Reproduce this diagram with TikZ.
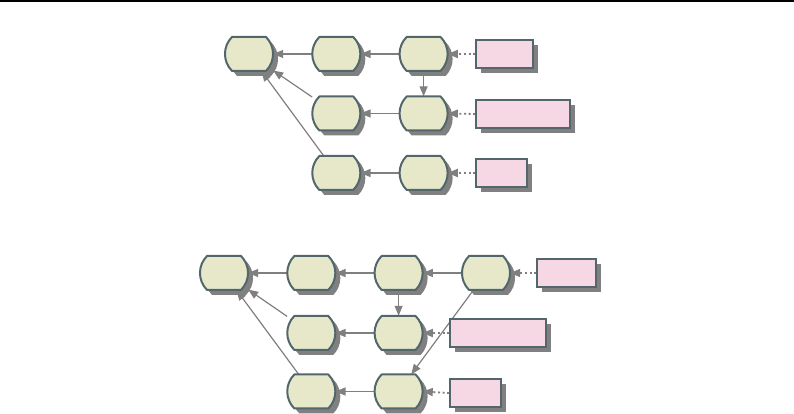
\documentclass[tikz,border=0pt]{standalone}
\usetikzlibrary{arrows.meta,shadows}
\definecolor{nodefill}{HTML}{E6E8C9}
\definecolor{nodeborder}{HTML}{52666C}
\definecolor{pinkfill}{HTML}{F6D7E4}
\definecolor{shadowgray}{HTML}{808080}
\definecolor{edgegray}{HTML}{7F7F7F}
\pgfdeclarelayer{bg}
\pgfsetlayers{bg,main}
\tikzset{
  proc/.style={rectangle,minimum width=48pt,minimum height=34pt,inner sep=0pt,draw=none},
  procshape/.style={insert path={++(-17pt,17pt) -- ++(34pt,0pt) arc[start angle=45,end angle=-45,radius=24pt] -- ++(-34pt,0pt) arc[start angle=225,end angle=135,radius=24pt] -- cycle}},
  procfill/.style={fill=nodefill,draw=nodeborder,line width=2pt,line join=round},
  shadowfill/.style={fill=shadowgray},
  pinkbox/.style={rectangle,minimum height=28pt,inner sep=0pt,fill=pinkfill,draw=nodeborder,line width=1.6pt,
    drop shadow={shadow xshift=5pt,shadow yshift=-5pt,fill=shadowgray,opacity=1}},
  link/.style={draw=edgegray,line width=1.2pt,-{Triangle[length=10pt,width=8pt]}},
  dotlink/.style={draw=edgegray,line width=1.8pt,dash pattern=on 2pt off 2.6pt,-{Triangle[length=10pt,width=8pt]}},
}
\begin{document}
\begin{tikzpicture}[x=1pt,y=1pt]
\useasboundingbox (0,0) rectangle (794,414);
\fill[black] (0,411.5) rectangle (794,414);
% top diagram nodes
\node[proc] (a11) at (249,360) {};
\node[proc] (a12) at (336.3,360) {};
\node[proc] (a13) at (423.6,360) {};
\node[proc] (a22) at (336.3,300.5) {};
\node[proc] (a23) at (423.6,300.5) {};
\node[proc] (a32) at (336.3,241) {};
\node[proc] (a33) at (423.6,241) {};
% bottom diagram nodes
\node[proc] (b11) at (224,141) {};
\node[proc] (b12) at (311.3,141) {};
\node[proc] (b13) at (398.6,141) {};
\node[proc] (b14) at (486,141) {};
\node[proc] (b22) at (311.3,81) {};
\node[proc] (b23) at (398.6,81) {};
\node[proc] (b32) at (311.3,22.5) {};
\node[proc] (b33) at (398.6,22.5) {};
\foreach \n in {a11,a12,a13,a22,a23,a32,a33,b11,b12,b13,b14,b22,b23,b32,b33}{
  \fill[shadowfill] ([shift={(5pt,-5pt)}]\n.center) [procshape];
  \draw[procfill] (\n.center) [procshape];
}
% pink boxes
\node[pinkbox,minimum width=57pt] (pa1) at (504.5,360) {};
\node[pinkbox,minimum width=94pt] (pa2) at (523,300) {};
\node[pinkbox,minimum width=51pt] (pa3) at (501.5,241) {};
\node[pinkbox,minimum width=59pt] (pb1) at (566.5,141) {};
\node[pinkbox,minimum width=96pt] (pb2) at (498,81) {};
\node[pinkbox,minimum width=51pt] (pb3) at (475.5,21) {};
\begin{pgfonlayer}{bg}
\draw[link] (a12) -- (a11);
\draw[link] (a13) -- (a12);
\draw[link] (a13) -- (a23);
\draw[link] (a23) -- (a22);
\draw[link] (a22) -- (a11);
\draw[link] (a33) -- (a32);
\draw[link] (a32) -- (a11);
\draw[dotlink] (pa1.west) -- (a13.east);
\draw[dotlink] (pa2.west) -- (a23.east);
\draw[dotlink] (pa3.west) -- (a33.east);
\draw[link] (b12) -- (b11);
\draw[link] (b13) -- (b12);
\draw[link] (b14) -- (b13);
\draw[link] (b13) -- (b23);
\draw[link] (b23) -- (b22);
\draw[link] (b22) -- (b11);
\draw[link] (b33) -- (b32);
\draw[link] (b32) -- (b11);
\draw[link] (b14) -- (b33);
\draw[dotlink] (pb1.west) -- (b14.east);
\draw[dotlink] (pb2.west) -- (b23.east);
\draw[dotlink] (pb3.west) -- (b33.east);
\end{pgfonlayer}
\end{tikzpicture}
\end{document}
